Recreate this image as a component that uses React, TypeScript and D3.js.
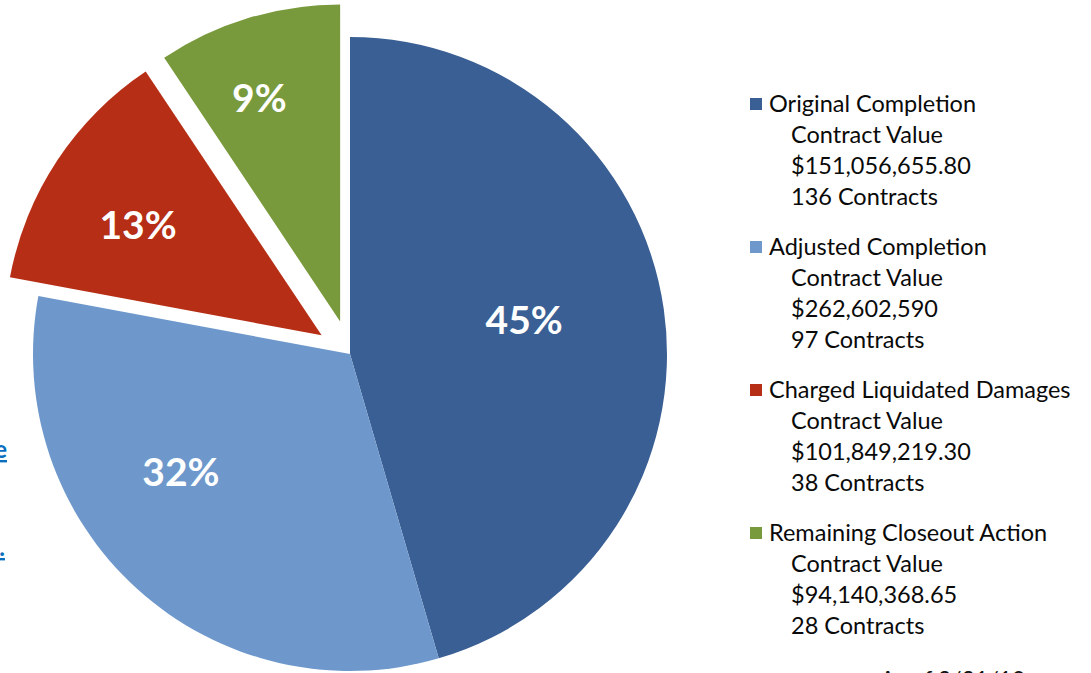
import React, { useEffect, useRef } from 'react'
import * as d3 from 'd3'

// contract counts drive the slices, the rest is legend text
const categories = ['Original Completion', 'Adjusted Completion', 'Charged Liquidated Damages', 'Remaining Closeout Action']
const contracts = [136, 97, 38, 28]
const contractValues = ['$151,056,655.80', '$262,602,590', '$101,849,219.30', '$94,140,368.65']
const percentLabels = ['45%', '32%', '13%', '9%']
const exploded = [false, false, true, true]
const colors = ['#3a5f94', '#6e98cb', '#b62e15', '#799a3c']

const App = () => {
  const ref = useRef<SVGSVGElement>(null)

  useEffect(() => {
    const svg = d3.select(ref.current)
    svg.selectAll('*').remove()

    const width = 1091, height = 673
    const cx = 350, cy = 354, r = 317
    const explode = 34
    // label placement, as fraction of radius and angle nudge in degrees
    const labelRadius = [0.56, 0.65, 0.675, 0.75]
    const labelShift = [-3, 13, -2.5, -3]

    const data = categories.map((c, i) => ({ name: c, count: contracts[i], i: i }))
    const pie = d3.pie<any>().sort(null).value((d: any) => d.count).startAngle(0).endAngle(2 * Math.PI)
    const arc = d3.arc<any>().innerRadius(0).outerRadius(r)

    const g = svg.append('g').attr('transform', 'translate(' + cx + ',' + cy + ')')

    const slices = g.selectAll('.slice')
      .data(pie(data))
      .enter().append('g')
      .attr('class', 'slice')
      .attr('transform', function (d: any) {
        if (!exploded[d.data.i]) return null
        const mid = (d.startAngle + d.endAngle) / 2
        return 'translate(' + (Math.sin(mid) * explode) + ',' + (-Math.cos(mid) * explode) + ')'
      })

    slices.append('path')
      .attr('d', arc)
      .style('fill', (d: any) => colors[d.data.i])

    slices.append('text')
      .attr('transform', function (d: any) {
        const i = d.data.i
        const a = (d.startAngle + d.endAngle) / 2 + labelShift[i] * Math.PI / 180
        const lr = r * labelRadius[i]
        return 'translate(' + (Math.sin(a) * lr) + ',' + (-Math.cos(a) * lr) + ')'
      })
      .attr('text-anchor', 'middle')
      .attr('dy', '0.36em')
      .style('font-family', 'Lato, "Open Sans", sans-serif')
      .style('font-weight', 'bold')
      .style('font-size', '39px')
      .style('fill', '#ffffff')
      .text((d: any) => percentLabels[d.data.i])

    // legend
    const legend = svg.append('g').attr('transform', 'translate(750,0)')
    const groupTop = 104, groupGap = 143, lineGap = 31
    categories.forEach(function (c, i) {
      const y0 = groupTop + i * groupGap
      legend.append('rect')
        .attr('x', 0).attr('y', y0 - 6)
        .attr('width', 12).attr('height', 12)
        .style('fill', colors[i])
      const lines = [c, 'Contract Value', contractValues[i], contracts[i] + ' Contracts']
      lines.forEach(function (t, j) {
        legend.append('text')
          .attr('x', j === 0 ? 19 : 41)
          .attr('y', y0 + j * lineGap)
          .attr('dy', '0.35em')
          .style('font-family', 'Lato, "Open Sans", sans-serif')
          .style('font-size', '23.5px')
          .style('fill', '#0a0a0a')
          .text(t)
      })
    })

    // cut-off link text on the left edge and footnote at the bottom
    const linkStyle = (sel: any) => sel
      .attr('text-anchor', 'end')
      .style('font-family', 'Lato, sans-serif')
      .style('font-weight', 'bold')
      .style('font-size', '24px')
      .style('fill', '#0b6fc0')
      .style('text-decoration', 'underline')
    linkStyle(svg.append('text').attr('x', 7).attr('y', 458).text('here'))
    linkStyle(svg.append('text').attr('x', 5).attr('y', 556).text('site.'))

    svg.append('text')
      .attr('x', 880).attr('y', 688)
      .style('font-family', 'Lato, sans-serif')
      .style('font-size', '23px')
      .style('fill', '#111111')
      .text('As of 3/31/10')

    svg.attr('width', width).attr('height', height)
  }, [])

  return (
    <div style={{ position: 'absolute', left: 0, top: 0, width: 1091, height: 673, overflow: 'hidden', background: '#fff' }}>
      <svg ref={ref} style={{ display: 'block' }}></svg>
    </div>
  )
}

export default App
